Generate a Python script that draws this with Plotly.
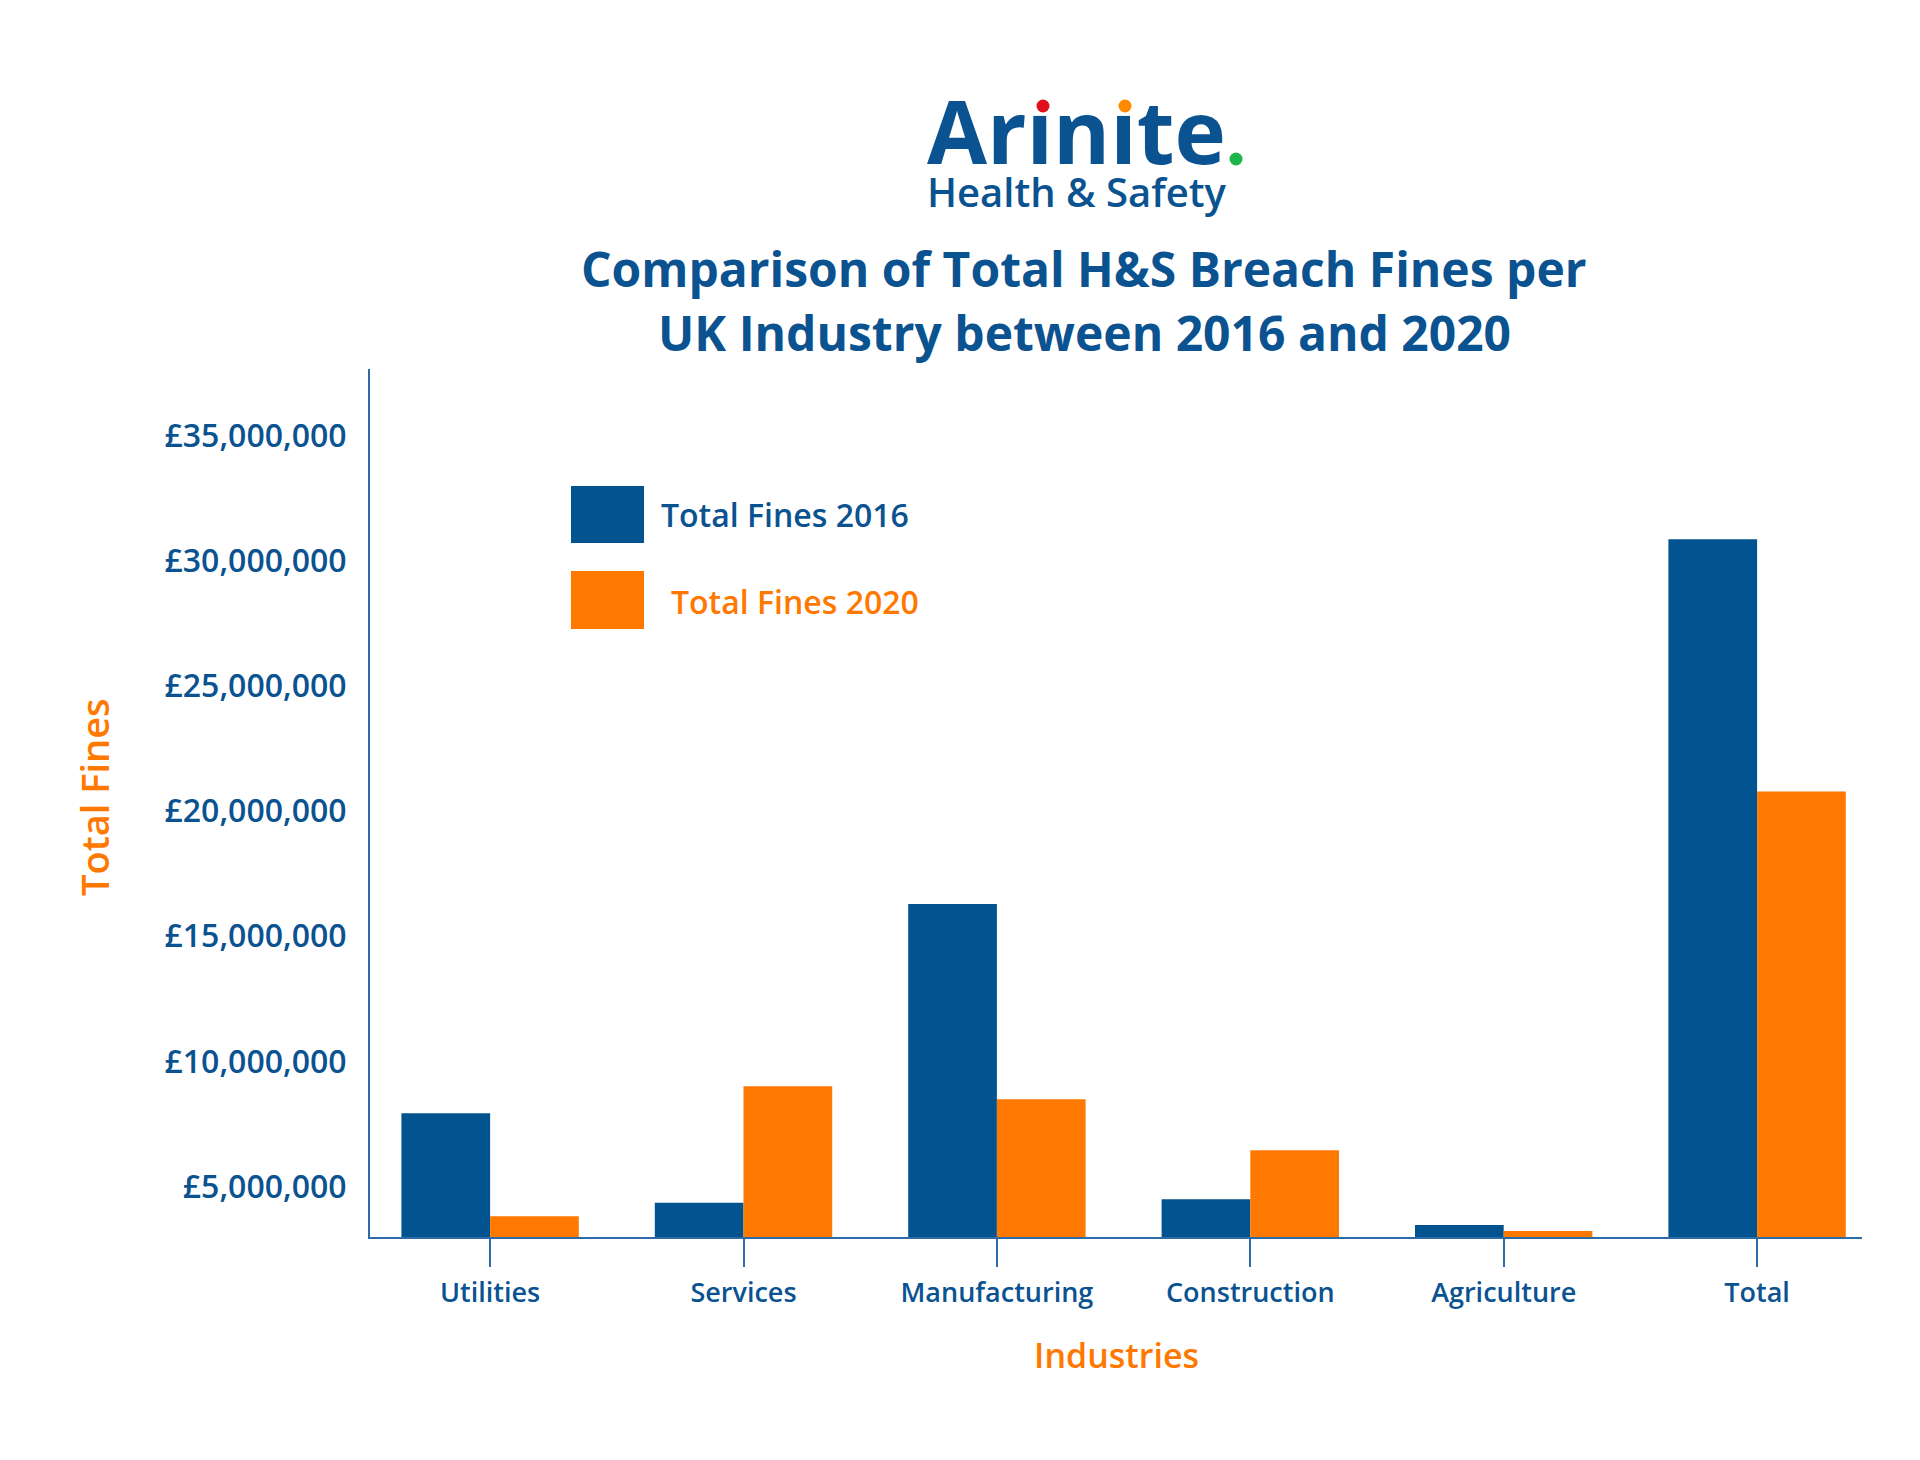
import plotly.graph_objects as go

categories = ["Utilities", "Services", "Manufacturing", "Construction", "Agriculture", "Total"]
fines_2016 = [7.93e6, 4.35e6, 16.29e6, 4.49e6, 3.46e6, 30.87e6]
fines_2020 = [3.81e6, 9.00e6, 8.49e6, 6.45e6, 3.22e6, 20.78e6]
series_names = ["Total Fines 2016", "Total Fines 2020"]
y_tick_values = [5e6, 10e6, 15e6, 20e6, 25e6, 30e6, 35e6]
y_tick_labels = ["£5,000,000", "£10,000,000", "£15,000,000", "£20,000,000",
                 "£25,000,000", "£30,000,000", "£35,000,000"]

BLUE = "#01548F"
TEXT_BLUE = "#0A5390"
ORANGE = "#FF7800"
LINE_BLUE = "#2E6BA6"
FONT = "Open Sans"

OFF = 8  # page body margin
W, H = 1920 - 2 * OFF, 1460 - 2 * OFF
# plot area in screen pixels: x 370..1862, y 369..1237
SL, SR, ST, SB = 370, 1862, 369, 1237
L, T = SL - OFF, ST - OFF
R, B = W - (SR - OFF), H - (SB - OFF)
PW, PH = SR - SL, SB - ST


def px(x):
    return (x - SL) / PW


def py(y):
    return (SB - y) / PH


def ann(x, y, text, size, color, weight=600, xanchor="center", angle=0):
    return dict(x=px(x), y=py(y), xref="paper", yref="paper", text=text,
                showarrow=False, xanchor=xanchor, yanchor="middle", textangle=angle,
                font=dict(family=FONT, size=size, color=color, weight=weight))


fig = go.Figure()
fig.add_trace(go.Bar(x=categories, y=fines_2016, name=series_names[0],
                     marker=dict(color=BLUE, line=dict(width=0))))
fig.add_trace(go.Bar(x=categories, y=fines_2020, name=series_names[1],
                     marker=dict(color=ORANGE, line=dict(width=0))))

logo_text = ("<span style='font-size:87px;font-weight:700'>Arınıte</span><br>"
             "<span style='font-size:40px;font-weight:600'>Health &amp; Safety</span>")

annotations = [
    ann(1077, 145, logo_text, 33, TEXT_BLUE, 600),
    ann(1084, 268, "Comparison of Total H&amp;S Breach Fines per", 48, TEXT_BLUE, 700),
    ann(1084, 332, "UK Industry between 2016 and 2020", 48, TEXT_BLUE, 700),
    ann(659, 514, series_names[0], 32, TEXT_BLUE, 600, xanchor="left"),
    ann(669, 601, series_names[1], 32, ORANGE, 600, xanchor="left"),
    ann(94, 797, "Total Fines", 38, ORANGE, 600, angle=-90),
    ann(1116, 1355, "Industries", 34, ORANGE, 600),
]

shapes = [
    dict(type="rect", xref="paper", yref="paper", x0=px(571), x1=px(644),
         y0=py(543), y1=py(486), fillcolor=BLUE, line=dict(width=0)),
    dict(type="rect", xref="paper", yref="paper", x0=px(571), x1=px(644),
         y0=py(629), y1=py(571), fillcolor=ORANGE, line=dict(width=0)),
]
# coloured dots of the logo
for cx, cy, col in [(1043, 106, "#E0101E"), (1125, 106, "#FF8A00"), (1236, 159, "#1DB44A")]:
    shapes.append(dict(type="circle", xref="paper", yref="paper",
                       xsizemode="pixel", ysizemode="pixel",
                       xanchor=px(cx), yanchor=py(cy),
                       x0=-6.5, x1=6.5, y0=-6.5, y1=6.5,
                       fillcolor=col, line=dict(width=0)))

fig.update_layout(
    width=W, height=H, autosize=False,
    margin=dict(l=L, r=R, t=T, b=B, pad=0),
    paper_bgcolor="white", plot_bgcolor="white",
    barmode="group", bargap=0.3, bargroupgap=0,
    showlegend=False,
    annotations=annotations, shapes=shapes,
    xaxis=dict(
        range=[-0.474, 5.414], showgrid=False, zeroline=False,
        showline=True, linecolor=LINE_BLUE, linewidth=2,
        ticks="outside", ticklen=28, tickwidth=2, tickcolor=LINE_BLUE,
        tickfont=dict(family=FONT, size=27, color=TEXT_BLUE, weight=600),
        ticklabelstandoff=3,
    ),
    yaxis=dict(
        range=[2.98e6, 37.67e6], showgrid=False, zeroline=False,
        showline=True, linecolor=LINE_BLUE, linewidth=2,
        ticks="", tickvals=y_tick_values, ticktext=y_tick_labels,
        tickfont=dict(family=FONT, size=32, color=TEXT_BLUE, weight=600),
        ticklabelstandoff=15,
    ),
)

fig.write_html("out.html")
